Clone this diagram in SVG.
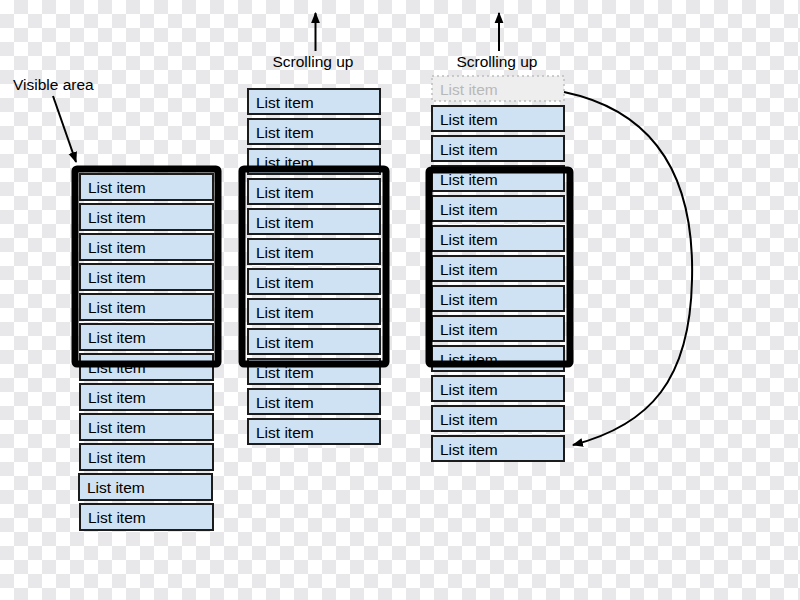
<svg xmlns="http://www.w3.org/2000/svg" width="800" height="600" viewBox="0 0 800 600">
<defs>
<pattern id="checker" x="0" y="0" width="28" height="28" patternUnits="userSpaceOnUse">
<rect width="28" height="28" fill="#ffffff"/>
<rect x="14" y="0" width="14" height="14" fill="#e8e8ea"/>
<rect x="0" y="14" width="14" height="14" fill="#e8e8ea"/>
</pattern>
<marker id="ah" viewBox="0 0 10 10" refX="9" refY="5" markerWidth="11" markerHeight="11" markerUnits="userSpaceOnUse" orient="auto">
<path d="M0,1 L10,5 L0,9 Z" fill="#000"/>
</marker>
</defs>
<style>
.item rect{fill:#cfe2f3;stroke:#1c1c1c;stroke-width:2}
.item text,.lbl{font-family:"Liberation Sans",Arial,sans-serif;font-size:15.5px;fill:#000}
.ghost rect{fill:#eeeeee;stroke:#bdbdbd;stroke-width:1.5;stroke-dasharray:2,3}
.ghost text{font-family:"Liberation Sans",Arial,sans-serif;font-size:15.5px;fill:#b8b8b8}
.box{fill:none;stroke:#000;stroke-width:7;stroke-linejoin:round}
.conn{fill:none;stroke:#000;stroke-width:2}
</style>
<rect id="background" width="800" height="600" fill="url(#checker)"/>

<g id="col1">
<g class="item" id="c1i1"><rect x="80" y="174" width="133" height="26"/><text x="88" y="193">List item</text></g>
<g class="item" id="c1i2"><rect x="80" y="204" width="133" height="26"/><text x="88" y="223">List item</text></g>
<g class="item" id="c1i3"><rect x="80" y="234" width="133" height="26"/><text x="88" y="253">List item</text></g>
<g class="item" id="c1i4"><rect x="80" y="264" width="133" height="26"/><text x="88" y="283">List item</text></g>
<g class="item" id="c1i5"><rect x="80" y="294" width="133" height="26"/><text x="88" y="313">List item</text></g>
<g class="item" id="c1i6"><rect x="80" y="324" width="133" height="26"/><text x="88" y="343">List item</text></g>
<g class="item" id="c1i7"><rect x="80" y="354" width="133" height="26"/><text x="88" y="373">List item</text></g>
<g class="item" id="c1i8"><rect x="80" y="384" width="133" height="26"/><text x="88" y="403">List item</text></g>
<g class="item" id="c1i9"><rect x="80" y="414" width="133" height="26"/><text x="88" y="433">List item</text></g>
<g class="item" id="c1i10"><rect x="80" y="444" width="133" height="26"/><text x="88" y="463">List item</text></g>
<g class="item" id="c1i11"><rect x="79" y="474" width="133" height="26"/><text x="87" y="493">List item</text></g>
<g class="item" id="c1i12"><rect x="80" y="504" width="133" height="26"/><text x="88" y="523">List item</text></g>
</g>

<g id="col2">
<g class="item" id="c2i1"><rect x="248" y="89" width="132" height="25"/><text x="256" y="108">List item</text></g>
<g class="item" id="c2i2"><rect x="248" y="119" width="132" height="25"/><text x="256" y="138">List item</text></g>
<g class="item" id="c2i3"><rect x="248" y="149" width="132" height="25"/><text x="256" y="168">List item</text></g>
<g class="item" id="c2i4"><rect x="248" y="179" width="132" height="25"/><text x="256" y="198">List item</text></g>
<g class="item" id="c2i5"><rect x="248" y="209" width="132" height="25"/><text x="256" y="228">List item</text></g>
<g class="item" id="c2i6"><rect x="248" y="239" width="132" height="25"/><text x="256" y="258">List item</text></g>
<g class="item" id="c2i7"><rect x="248" y="269" width="132" height="25"/><text x="256" y="288">List item</text></g>
<g class="item" id="c2i8"><rect x="248" y="299" width="132" height="25"/><text x="256" y="318">List item</text></g>
<g class="item" id="c2i9"><rect x="248" y="329" width="132" height="25"/><text x="256" y="348">List item</text></g>
<g class="item" id="c2i10"><rect x="248" y="359" width="132" height="25"/><text x="256" y="378">List item</text></g>
<g class="item" id="c2i11"><rect x="248" y="389" width="132" height="25"/><text x="256" y="408">List item</text></g>
<g class="item" id="c2i12"><rect x="248" y="419" width="132" height="25"/><text x="256" y="438">List item</text></g>
</g>

<g id="col3">
<g class="ghost" id="c3i0"><rect x="432" y="76" width="132" height="25"/><text x="440" y="95">List item</text></g>
<g class="item" id="c3i1"><rect x="432" y="106" width="132" height="25"/><text x="440" y="125">List item</text></g>
<g class="item" id="c3i2"><rect x="432" y="136" width="132" height="25"/><text x="440" y="155">List item</text></g>
<g class="item" id="c3i3"><rect x="432" y="166" width="132" height="25"/><text x="440" y="185">List item</text></g>
<g class="item" id="c3i4"><rect x="432" y="196" width="132" height="25"/><text x="440" y="215">List item</text></g>
<g class="item" id="c3i5"><rect x="432" y="226" width="132" height="25"/><text x="440" y="245">List item</text></g>
<g class="item" id="c3i6"><rect x="432" y="256" width="132" height="25"/><text x="440" y="275">List item</text></g>
<g class="item" id="c3i7"><rect x="432" y="286" width="132" height="25"/><text x="440" y="305">List item</text></g>
<g class="item" id="c3i8"><rect x="432" y="316" width="132" height="25"/><text x="440" y="335">List item</text></g>
<g class="item" id="c3i9"><rect x="432" y="346" width="132" height="25"/><text x="440" y="365">List item</text></g>
<g class="item" id="c3i10"><rect x="432" y="376" width="132" height="25"/><text x="440" y="395">List item</text></g>
<g class="item" id="c3i11"><rect x="432" y="406" width="132" height="25"/><text x="440" y="425">List item</text></g>
<g class="item" id="c3i12"><rect x="432" y="436" width="132" height="25"/><text x="440" y="455">List item</text></g>
</g>

<g id="viewports">
<rect class="box" id="box1" x="75" y="169" width="143" height="195" rx="2"/>
<rect class="box" id="box2" x="242" y="169" width="144" height="195" rx="2"/>
<rect class="box" id="box3" x="429" y="170" width="141" height="194" rx="2"/>
</g>

<g id="labels">
<text class="lbl" x="13" y="90">Visible area</text>
<text class="lbl" x="313" y="67" text-anchor="middle">Scrolling up</text>
<text class="lbl" x="497" y="67" text-anchor="middle">Scrolling up</text>
</g>

<g id="connectors">
<line class="conn" x1="53" y1="96" x2="76" y2="162" marker-end="url(#ah)"/>
<line class="conn" x1="315.5" y1="51" x2="315.5" y2="13" marker-end="url(#ah)"/>
<line class="conn" x1="499" y1="51" x2="499" y2="13" marker-end="url(#ah)"/>
<path class="conn" d="M564,92 C650,110 695,170 692,280 C690,380 650,425 573,445" marker-end="url(#ah)"/>
</g>
</svg>
